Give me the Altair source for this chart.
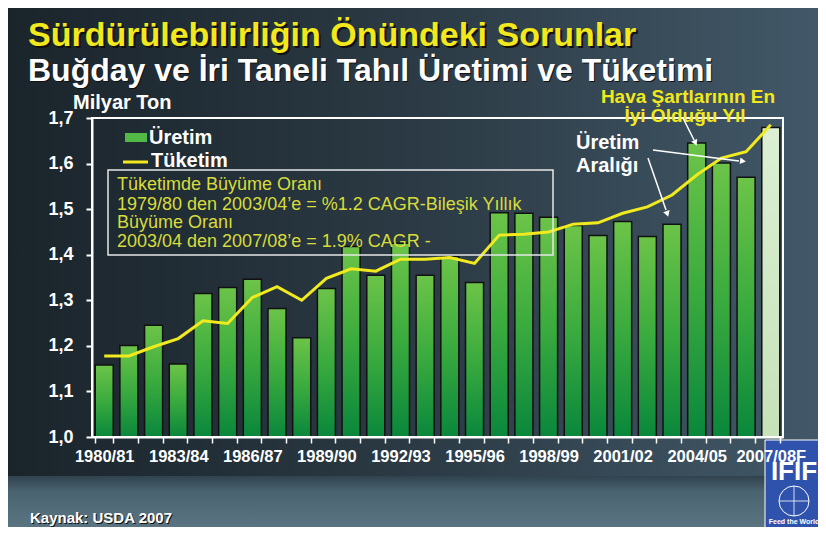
import altair as alt
import pandas as pd

years = ["1980/81", "1981/82", "1982/83", "1983/84", "1984/85", "1985/86", "1986/87",
         "1987/88", "1988/89", "1989/90", "1990/91", "1991/92", "1992/93", "1993/94",
         "1994/95", "1995/96", "1996/97", "1997/98", "1998/99", "1999/00", "2000/01",
         "2001/02", "2002/03", "2003/04", "2004/05", "2005/06", "2006/07", "2007/08F"]
production = [1.158, 1.201, 1.245, 1.160, 1.315, 1.328, 1.346, 1.282, 1.218, 1.326,
              1.418, 1.355, 1.425, 1.355, 1.396, 1.339, 1.492, 1.491, 1.482, 1.464,
              1.442, 1.473, 1.440, 1.467, 1.645, 1.601, 1.570, 1.679]
consumption = [1.178, 1.178, 1.198, 1.216, 1.255, 1.249, 1.306, 1.330, 1.300, 1.348,
               1.369, 1.364, 1.390, 1.390, 1.394, 1.381, 1.443, 1.445, 1.450, 1.467,
               1.470, 1.491, 1.505, 1.531, 1.575, 1.612, 1.626, 1.685]
y_ticks = [1.0, 1.1, 1.2, 1.3, 1.4, 1.5, 1.6, 1.7]

title = "Sürdürülebilirliğin Önündeki Sorunlar"
subtitle = "Buğday ve İri Taneli Tahıl Üretimi ve Tüketimi"
box_lines = ["Tüketimde Büyüme Oranı",
             "1979/80 den 2003/04’e = %1.2 CAGR-Bileşik Yıllık",
             "Büyüme Oranı",
             "2003/04 den 2007/08’e = 1.9% CAGR -"]

df = pd.DataFrame({"yil": years, "uretim": production, "tuketim": consumption})
one = pd.DataFrame({"k": [0]})

W, H = 691, 319
FONT = "Liberation Sans"
YELLOW = "#f2e81c"

xscale = alt.Scale(paddingInner=0.27, paddingOuter=0.13)
yscale = alt.Scale(domain=[1.0, 1.7], zero=False, nice=False)

x_axis = alt.Axis(
    title=None, labelAngle=0, labelColor="white", labelFont=FONT, labelFontWeight="bold",
    labelFontSize=16.5, labelPadding=5, labelOverlap=False, tickBand="extent",
    tickColor="white", tickSize=6, tickWidth=1.5, domainColor="white", domainWidth=2,
    labelExpr="(toNumber(substring(datum.value, 0, 4)) - 1980) % 3 == 0 ? datum.value : ''",
    zindex=1,
)
y_axis = alt.Axis(
    title=None, values=y_ticks, labelColor="white", labelFont=FONT, labelFontWeight="bold",
    labelFontSize=18, labelPadding=13, tickColor="white", tickSize=6, tickWidth=2,
    domainColor="white", domainWidth=2, grid=False,
    labelExpr="replace(format(datum.value, '.1f'), '.', ',')", zindex=1,
)


def grad(stops, vertical=True):
    return alt.LinearGradient(
        gradient="linear",
        stops=[alt.GradientStop(offset=o, color=c) for o, c in stops],
        x1=0, x2=0 if vertical else 1, y1=0, y2=1 if vertical else 0,
    )


def box(x1, x2, y1, y2, **kw):
    return alt.Chart(one).mark_rect(**kw).encode(
        x=alt.value(x1), x2=alt.value(x2), y=alt.value(y1), y2=alt.value(y2))


def txt(s, x, y, **kw):
    base = dict(font=FONT, baseline="middle", align="left")
    base.update(kw)
    return alt.Chart(one).mark_text(text=s, **base).encode(x=alt.value(x), y=alt.value(y))


def rule(x1, y1, x2, y2, **kw):
    return alt.Chart(one).mark_rule(**kw).encode(
        x=alt.value(x1), y=alt.value(y1), x2=alt.value(x2), y2=alt.value(y2))


def head(x, y, ang):
    return alt.Chart(one).mark_point(shape="triangle", filled=True, color="white",
                                     size=45, angle=ang, opacity=1).encode(
        x=alt.value(x), y=alt.value(y))


def xenc():
    return alt.X("yil:N", sort=years, scale=xscale, axis=x_axis)


def yenc(field):
    return alt.Y(field, scale=yscale, axis=y_axis)


background = box(-84, 726, -110, 409, fill=grad(
    [(0, "#1a242b"), (0.5, "#2b3a44"), (1, "#425868")], vertical=False))
bottom_band = box(-84, 726, 358, 409, fill=grad([(0, "#30424d"), (0.3, "#4a6370"), (1, "#5a7482")]))

bars = alt.Chart(df).transform_filter("datum.yil != '2007/08F'").mark_bar(
    fill=grad([(0, "#6cc448"), (0.5, "#3aab3e"), (1, "#0a873c")]),
    stroke="#111111", strokeWidth=1.5,
).encode(x=xenc(), y=yenc("uretim:Q"), y2=alt.datum(1.0))
last_bar = alt.Chart(df).transform_filter("datum.yil == '2007/08F'").mark_bar(
    fill=grad([(0, "#dcefd3"), (1, "#c6e2b8")]), stroke="#111111", strokeWidth=1.5,
).encode(x=xenc(), y=yenc("uretim:Q"), y2=alt.datum(1.0))
line = alt.Chart(df).mark_line(color="#f0ea1e", strokeWidth=3).encode(
    x=xenc(), y=yenc("tuketim:Q"))

frame = box(0, W, 0, H, fillOpacity=0, stroke="white", strokeWidth=2)
text_box = box(16, 461, 52, 137, fillOpacity=0, stroke="#e6e6e6", strokeWidth=1.5)
box_text = [txt(s, 25, y, fontSize=18, color="#d8dc3a")
            for s, y in zip(box_lines, [67, 87, 105, 124])]

legend = [
    box(33, 55, 15, 24, fill="#52b946"),
    txt("Üretim", 57, 20, fontSize=20, fontWeight="bold", color="white"),
    rule(31, 44, 56, 44, color=YELLOW, strokeWidth=3),
    txt("Tüketim", 59, 43, fontSize=20, fontWeight="bold", color="white"),
]

titles = [
    txt(title, -62, -80.5, fontSize=34, fontWeight="bold", color="#111111"),
    txt(title, -64, -82, fontSize=34, fontWeight="bold", color=YELLOW),
    txt(subtitle, -63, -46, fontSize=32, fontWeight="bold", color="#111111"),
    txt(subtitle, -64, -47, fontSize=32, fontWeight="bold", color="white"),
    txt("Milyar Ton", -19, -15, fontSize=20, fontWeight="bold", color="white"),
    txt("Kaynak: USDA 2007", -61, 401, fontSize=15, fontWeight="bold", color="#111111"),
    txt("Kaynak: USDA 2007", -62, 400, fontSize=15, fontWeight="bold", color="white"),
]

notes = [
    txt("Hava Şartlarının En", 596, -21, fontSize=19, fontWeight="bold", color=YELLOW, align="center"),
    txt("İyi Olduğu Yıl", 593, -2, fontSize=19, fontWeight="bold", color=YELLOW, align="center"),
    txt("Üretim", 484, 25, fontSize=20, fontWeight="bold", color="white"),
    txt("Aralığı", 484, 48, fontSize=20, fontWeight="bold", color="white"),
    rule(591, 0, 602, 22, color="white", strokeWidth=1.5),
    head(603, 24, 154),
    rule(561, 32, 647, 43, color="white", strokeWidth=1.5),
    head(650, 43, 97),
    rule(556, 40, 574, 92, color="white", strokeWidth=1.5),
    head(575, 95, 161),
]

logo = [
    box(673, 730, 322, 412, fill="#2f53ad", stroke="white", strokeWidth=1),
    txt("IFIF", 702, 354, fontSize=26, fontWeight="bold", color="white", align="center"),
    alt.Chart(one).mark_point(shape="circle", filled=False, color="white", size=900,
                              strokeWidth=1, opacity=1).encode(x=alt.value(702), y=alt.value(383)),
    rule(687, 383, 717, 383, color="white", strokeWidth=0.8),
    rule(702, 368, 702, 398, color="white", strokeWidth=0.8),
    txt("Feed the World", 702, 404, fontSize=7, fontWeight="bold", color="white", align="center"),
]

chart = alt.layer(
    background, bottom_band, bars, last_bar, line, frame, text_box, *box_text,
    *legend, *titles, *notes, *logo,
).properties(
    width=W, height=H,
    padding={"left": 84, "top": 110, "right": 35, "bottom": 90},
    autosize=alt.AutoSizeParams(type="none"),
).configure(background="#2a3944").configure_view(stroke="transparent")

chart.save("out.html", embed_options={"renderer": "svg", "actions": False})
